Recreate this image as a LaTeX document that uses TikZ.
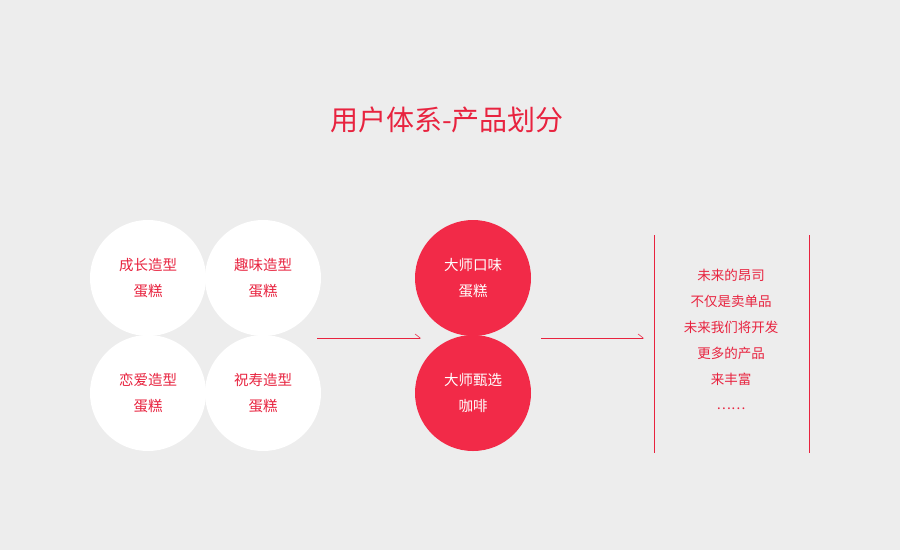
\documentclass[tikz,border=0pt]{standalone}
\usepackage{fontspec}
\setmainfont{Noto Sans CJK SC}
\usetikzlibrary{arrows.meta}
\definecolor{bg}{HTML}{EDEDED}
\definecolor{rd}{HTML}{F22A48}
\definecolor{tx}{HTML}{E8233F}
\tikzset{
 wc/.style={circle,fill=white,minimum size=116pt,inner sep=0pt,text=tx,font=\fontsize{14.5pt}{26pt}\selectfont,align=center},
 rc/.style={circle,fill=rd,minimum size=116pt,inner sep=0pt,text=white,font=\fontsize{14.5pt}{26pt}\selectfont,align=center},
 ar/.style={draw=tx,line width=0.6pt,-{Straight Barb[left,length=5pt,width=8pt]}},
 vl/.style={draw=tx,line width=0.8pt}
}
\begin{document}
\begin{tikzpicture}[x=1pt,y=-1pt]
\fill[bg] (0,0) rectangle (900,550);
\useasboundingbox (0,0) rectangle (900,550);
\node[text=tx,font=\fontsize{28pt}{32pt}\selectfont] (title) at (447,120) {用户体系-产品划分};
\node[wc] (a) at (148,278) {成长造型\\蛋糕};
\node[wc] (b) at (263,278) {趣味造型\\蛋糕};
\node[wc] (c) at (148,393) {恋爱造型\\蛋糕};
\node[wc] (d) at (263,393) {祝寿造型\\蛋糕};
\node[rc] (e) at (473,278) {大师口味\\蛋糕};
\node[rc] (f) at (473,393) {大师甄选\\咖啡};
\coordinate (a1s) at (317,338); \coordinate (a1e) at (421,338);
\coordinate (a2s) at (541,338); \coordinate (a2e) at (644,338);
\draw[ar] (a1s) -- (a1e);
\draw[ar] (a2s) -- (a2e);
\coordinate (l1) at (654,235); \coordinate (l2) at (654,453);
\coordinate (r1) at (809,235); \coordinate (r2) at (809,453);
\draw[vl] (l1) -- (l2);
\draw[vl] (r1) -- (r2);
\node[text=tx,font=\fontsize{13.5pt}{25.8pt}\selectfont,align=center,anchor=north] (txt) at (731,266) {未来的昂司\\不仅是卖单品\\未来我们将开发\\更多的产品\\来丰富\\……};
\end{tikzpicture}
\end{document}
